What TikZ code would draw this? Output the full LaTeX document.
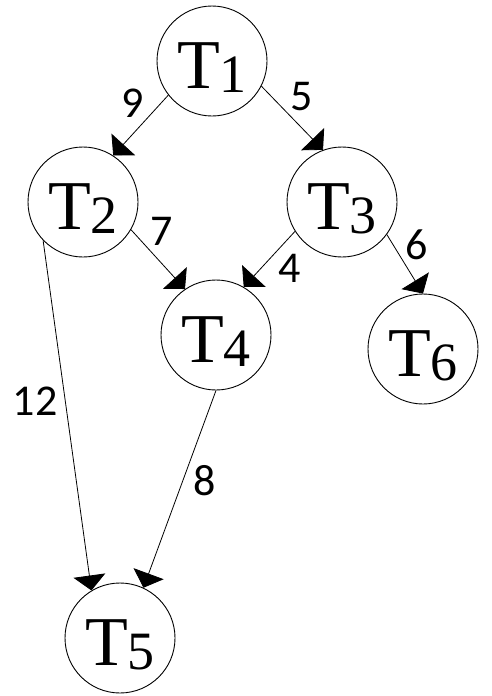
\documentclass[tikz,border=0pt]{standalone}
\usepackage{fontspec}
\setmainfont{Liberation Serif}
\newfontfamily\labfont{Carlito}
\usetikzlibrary{arrows.meta}
\newcommand{\tnode}[1]{\raisebox{-27pt}[0pt][0pt]{\fontsize{70}{70}\selectfont T\hspace{-1pt}\raisebox{-4pt}{\fontsize{54}{54}\selectfont #1}}}
\tikzset{
  task/.style={circle, draw=black, line width=0.9pt, minimum size=110pt, inner sep=0pt},
  edge/.style={draw=black, line width=0.8pt, -{Triangle[length=15pt,width=32pt]}},
  weight/.style={font=\labfont\fontsize{44}{44}\selectfont, inner sep=0pt}
}
\begin{document}
\begin{tikzpicture}[x=1pt,y=-1pt]
\useasboundingbox (0,0) rectangle (492,696);
\node[task] (t1) at (212,61) {\tnode{1}};
\node[task] (t2) at (83,202) {\tnode{2}};
\node[task] (t3) at (342,202) {\tnode{3}};
\node[task] (t4) at (216,335) {\tnode{4}};
\node[task] (t6) at (423,349) {\tnode{6}};
\node[task] (t5) at (120,638) {\tnode{5}};

\draw[edge] (t1.218.5) -- (t2.57.4);
\draw[edge] (t1.333.4) -- (t3.110);
\draw[edge] (t2.330.6) -- (t4.124.6);
\draw[edge] (t3.212) -- (t4.60);
\draw[edge] (t3.324.6) -- (t6.90);
\draw[edge] (t2.224) -- (t5.121.5);
\draw[edge] (t4.270) -- (t5.65.7);

\node[weight] (w9) at (133,103) {9};
\node[weight] (w5) at (302,97) {5};
\node[weight] (w7) at (162,231) {7};
\node[weight] (w6) at (417,245) {6};
\node[weight] (w4) at (290,268) {4};
\node[weight] (w12) at (35,401) {12};
\node[weight] (w8) at (205,481) {8};
\end{tikzpicture}
\end{document}
